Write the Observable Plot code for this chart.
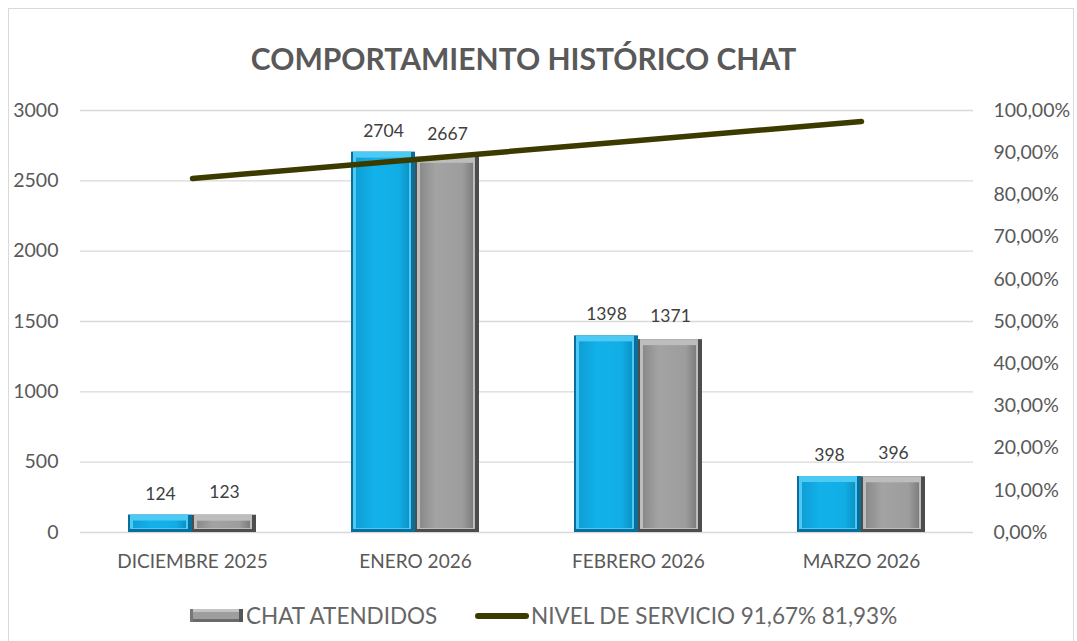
<!DOCTYPE html>
<html>
<head>
<meta charset="utf-8">
<script src="https://cdn.jsdelivr.net/npm/d3@7"></script>
<script src="https://cdn.jsdelivr.net/npm/@observablehq/plot@0.6"></script>
<style>
  html, body { margin: 0; padding: 0; background: #fff; }
  #wrap { position: relative; width: 1077px; height: 641px; overflow: hidden; font-family: Lato, "Open Sans", sans-serif; }
  #frame { position: absolute; left: 8px; top: 8px; width: 1066px; height: 700px; border: 1.5px solid #d9d9d9; box-sizing: border-box; }
  #title { position: relative; height: 90px; line-height: 116px; text-align: center; font-weight: bold; font-size: 30px; color: #595959; padding-right: 30px; box-sizing: border-box; }
  #chart { position: relative; height: 500px; }
  #legend { position: relative; height: 51px; font-size: 22.5px; color: #666; }
  .lg { position: absolute; top: 12px; display: flex; align-items: center; }
  .sw-bar { width: 53px; height: 13px; background: linear-gradient(to bottom, #c4c4c4 0, #c4c4c4 3px, #9e9e9e 3px, #9e9e9e 10px, #6a6a6a 10px); border-left: 3px solid #777; border-right: 4px solid #555; box-sizing: border-box; margin-right: 3px; }
  .sw-line { width: 54px; height: 6px; border-radius: 3px; background: #3b3b00; margin-right: 2px; }
</style>
</head>
<body>
<div id="wrap">
  <div id="frame"></div>
  <div id="title">COMPORTAMIENTO HISTÓRICO CHAT</div>
  <div id="chart"></div>
  <div id="legend">
    <div class="lg" style="left:190px"><span class="sw-bar"></span><span>CHAT ATENDIDOS</span></div>
    <div class="lg" style="left:475px"><span class="sw-line"></span><span>NIVEL DE SERVICIO 91,67% 81,93%</span></div>
  </div>
</div>
<script>
const categories = ["DICIEMBRE 2025", "ENERO 2026", "FEBRERO 2026", "MARZO 2026"];
const chatRecibidos = [124, 2704, 1398, 398];
const chatAtendidos = [123, 2667, 1371, 396];
const nivelServicio = [83.9, 88.4, 92.9, 97.4]; // percent, right axis
const leftTicks = [0, 500, 1000, 1500, 2000, 2500, 3000];
const rightTicks = [0, 10, 20, 30, 40, 50, 60, 70, 80, 90, 100];
const leftMax = 3000;

const pctToLeft = p => p / 100 * leftMax;

const recibidos = categories.map((c, i) => ({cat: c, v: chatRecibidos[i]}));
const atendidos = categories.map((c, i) => ({cat: c, v: chatAtendidos[i]}));
const nivel = categories.map((c, i) => ({cat: c, p: nivelServicio[i], y: pctToLeft(nivelServicio[i])}));

const half = 64;
function bevelBars(data, side, colors) {
  const L = side === "left" ? 0 : half;
  const R = side === "left" ? half : 0;
  return [
    Plot.barY(data, {x: "cat", y: "v", fill: colors.edge, insetLeft: L, insetRight: R}),
    Plot.barY(data, {x: "cat", y: "v", fill: colors.top, insetLeft: L + 2, insetRight: R + 4, insetBottom: 3}),
    Plot.barY(data, {x: "cat", y: "v", fill: colors.face, insetLeft: L + 5, insetRight: R + 6, insetTop: 6, insetBottom: 4})
  ];
}

const fmtPct = p => p.toFixed(2).replace(".", ",") + "%";

const svg = Plot.plot({
  width: 1077,
  height: 500,
  marginTop: 20,
  marginBottom: 58,
  marginLeft: 80,
  marginRight: 104,
  style: {fontFamily: "Lato, 'Open Sans', sans-serif", color: "#595959", background: "transparent"},
  x: {domain: categories, paddingInner: 0.427, paddingOuter: 0.21},
  y: {domain: [0, leftMax]},
  marks: [
    Plot.gridY(leftTicks, {stroke: "#d9d9d9", strokeOpacity: 1, strokeWidth: 1.3}),
    Plot.axisY({ticks: leftTicks, tickSize: 0, tickPadding: 22, fontSize: 19.5, tickFormat: d => String(d), label: null, fill: "#595959"}),
    Plot.axisY({anchor: "right", ticks: rightTicks.map(pctToLeft), tickSize: 0, tickPadding: 20, fontSize: 19.5, tickFormat: d => fmtPct(d / leftMax * 100), label: null, fill: "#595959", textAnchor: "start"}),
    Plot.axisX({tickSize: 0, tickPadding: 22, fontSize: 19, label: null, fill: "#595959"}),
    ...bevelBars(recibidos, "left", {edge: "#0a6e9b", top: "#4ccaf3", face: "url(#gBlue)"}),
    ...bevelBars(atendidos, "right", {edge: "#4d4d4d", top: "#bdbdbd", face: "url(#gGray)"}),
    Plot.text(recibidos, {x: "cat", y: "v", text: d => String(d.v), dx: -32, dy: -21, fontSize: 17.5, fill: "#404040"}),
    Plot.text(atendidos, {x: "cat", y: "v", text: d => String(d.v), dx: 32, dy: -23, fontSize: 17.5, fill: "#404040"}),
    Plot.lineY(nivel, {x: "cat", y: "y", stroke: "#3b3b00", strokeWidth: 5.5, strokeLinecap: "round"})
  ]
});

const defs = d3.select(svg).insert("defs", ":first-child");
const gb = defs.append("linearGradient").attr("id", "gBlue").attr("x1", 0).attr("x2", 1).attr("y1", 0).attr("y2", 0);
gb.append("stop").attr("offset", "0%").attr("stop-color", "#0e9fd6");
gb.append("stop").attr("offset", "35%").attr("stop-color", "#13b1ea");
gb.append("stop").attr("offset", "80%").attr("stop-color", "#11aee6");
gb.append("stop").attr("offset", "100%").attr("stop-color", "#0c93c6");
const gg = defs.append("linearGradient").attr("id", "gGray").attr("x1", 0).attr("x2", 1).attr("y1", 0).attr("y2", 0);
gg.append("stop").attr("offset", "0%").attr("stop-color", "#8a8a8a");
gg.append("stop").attr("offset", "30%").attr("stop-color", "#a3a3a3");
gg.append("stop").attr("offset", "80%").attr("stop-color", "#9d9d9d");
gg.append("stop").attr("offset", "100%").attr("stop-color", "#7e7e7e");

document.getElementById("chart").appendChild(svg);
</script>
</body>
</html>
